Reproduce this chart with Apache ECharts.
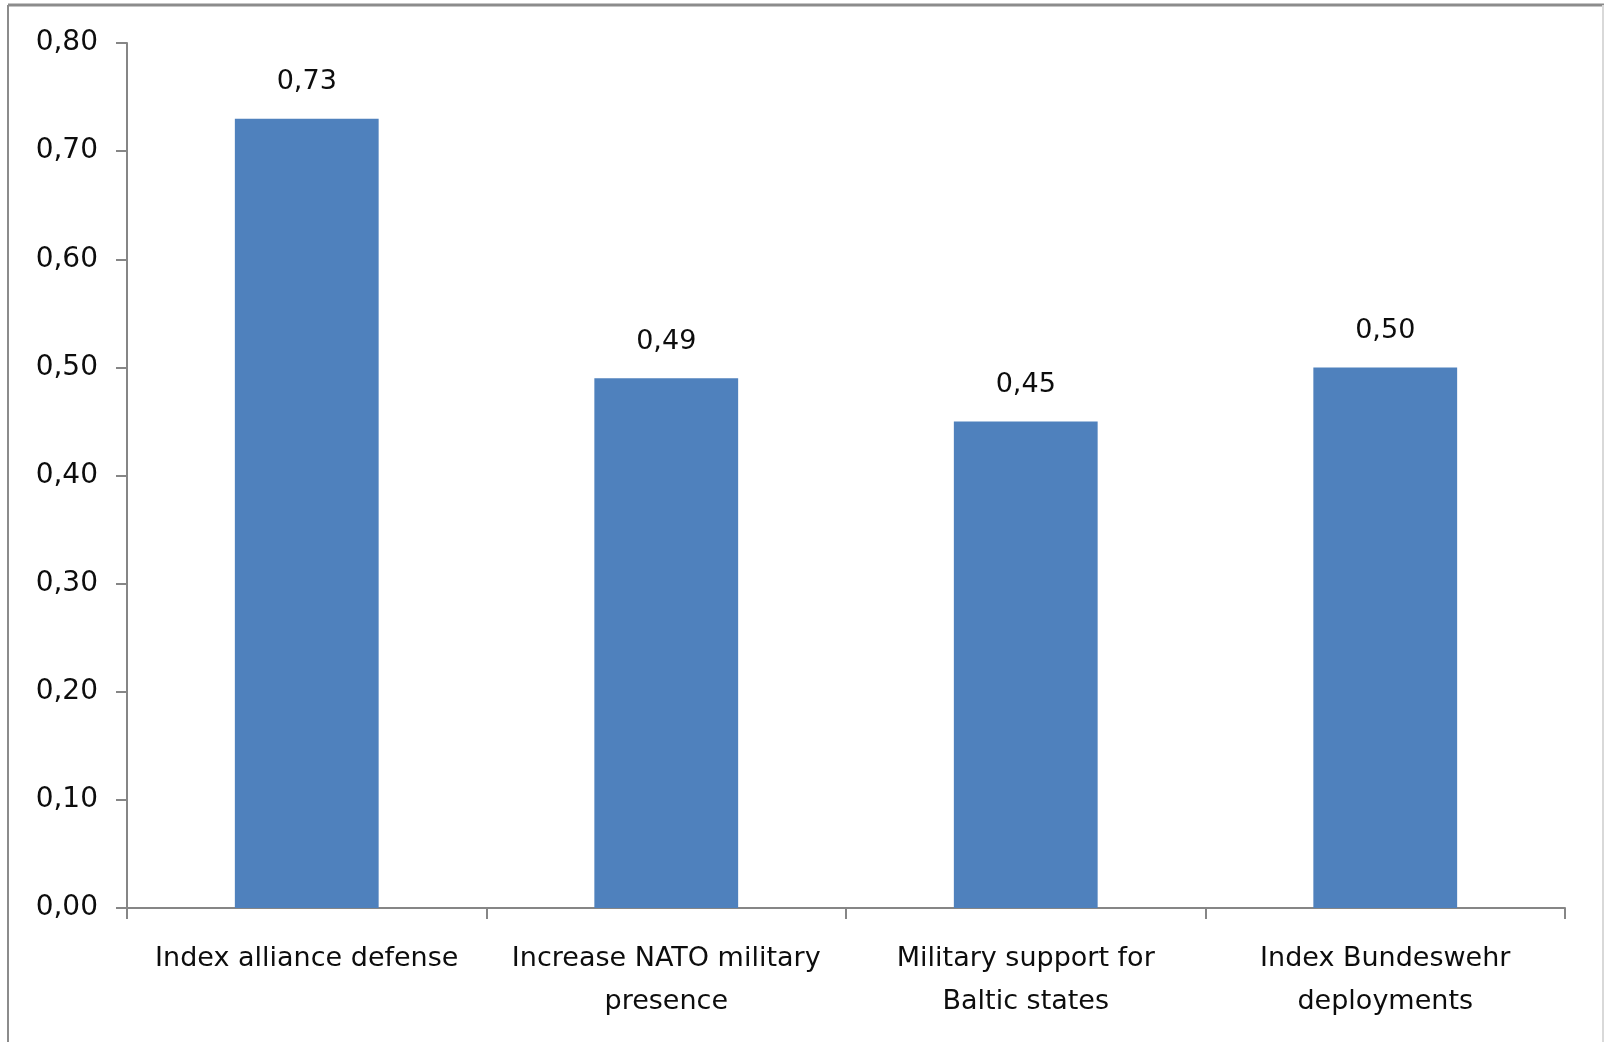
<!DOCTYPE html>
<html>
<head>
<meta charset="utf-8">
<script src="https://cdn.jsdelivr.net/npm/echarts@6/dist/echarts.min.js"></script>
<style>
html,body{margin:0;padding:0;background:#fff;}
#chart{width:1604px;height:1042px;}
</style>
</head>
<body>
<div id="chart"></div>
<script>
const categories = ["Index alliance defense", "Increase NATO military\npresence", "Military support for\nBaltic states", "Index Bundeswehr\ndeployments"];
const values = [0.73, 0.49, 0.45, 0.50];
const yMin = 0, yMax = 0.8, yInterval = 0.1;

const fontFam = "'DejaVu Sans', sans-serif";
const chart = echarts.init(document.getElementById('chart'), null, {renderer: 'canvas'});
chart.setOption({
  animation: false,
  backgroundColor: '#ffffff',
  graphic: [
    {type: 'line', shape: {x1: 8, y1: 5, x2: 1604, y2: 5}, style: {stroke: '#8c8c8c', lineWidth: 3}},
    {type: 'line', shape: {x1: 8, y1: 5, x2: 8, y2: 1042}, style: {stroke: '#8c8c8c', lineWidth: 2}},
    {type: 'line', shape: {x1: 1603, y1: 5, x2: 1603, y2: 1042}, style: {stroke: '#d9d9d9', lineWidth: 2}}
  ],
  grid: {left: 127, right: 39, top: 43, bottom: 134, containLabel: false},
  xAxis: {
    type: 'category',
    data: categories,
    axisLine: {lineStyle: {color: '#868686', width: 2}},
    axisTick: {show: true, length: 11, lineStyle: {color: '#868686', width: 2}},
    axisLabel: {color: '#0d0d0d', fontFamily: fontFam, fontSize: 27, lineHeight: 43, margin: 29, interval: 0}
  },
  yAxis: {
    type: 'value',
    min: yMin, max: yMax, interval: yInterval,
    splitLine: {show: false},
    axisLine: {show: true, lineStyle: {color: '#868686', width: 2}},
    axisTick: {show: true, length: 11, lineStyle: {color: '#868686', width: 2}},
    axisLabel: {color: '#0d0d0d', fontFamily: fontFam, fontSize: 28, margin: 29,
      formatter: v => v.toFixed(2).replace('.', ',')}
  },
  series: [{
    type: 'bar',
    data: values,
    barWidth: '40%',
    itemStyle: {color: '#4f81bd'},
    label: {show: true, position: 'top', distance: 23, color: '#0d0d0d', fontFamily: fontFam, fontSize: 27,
      formatter: p => p.value.toFixed(2).replace('.', ',')}
  }]
});
</script>
</body>
</html>
